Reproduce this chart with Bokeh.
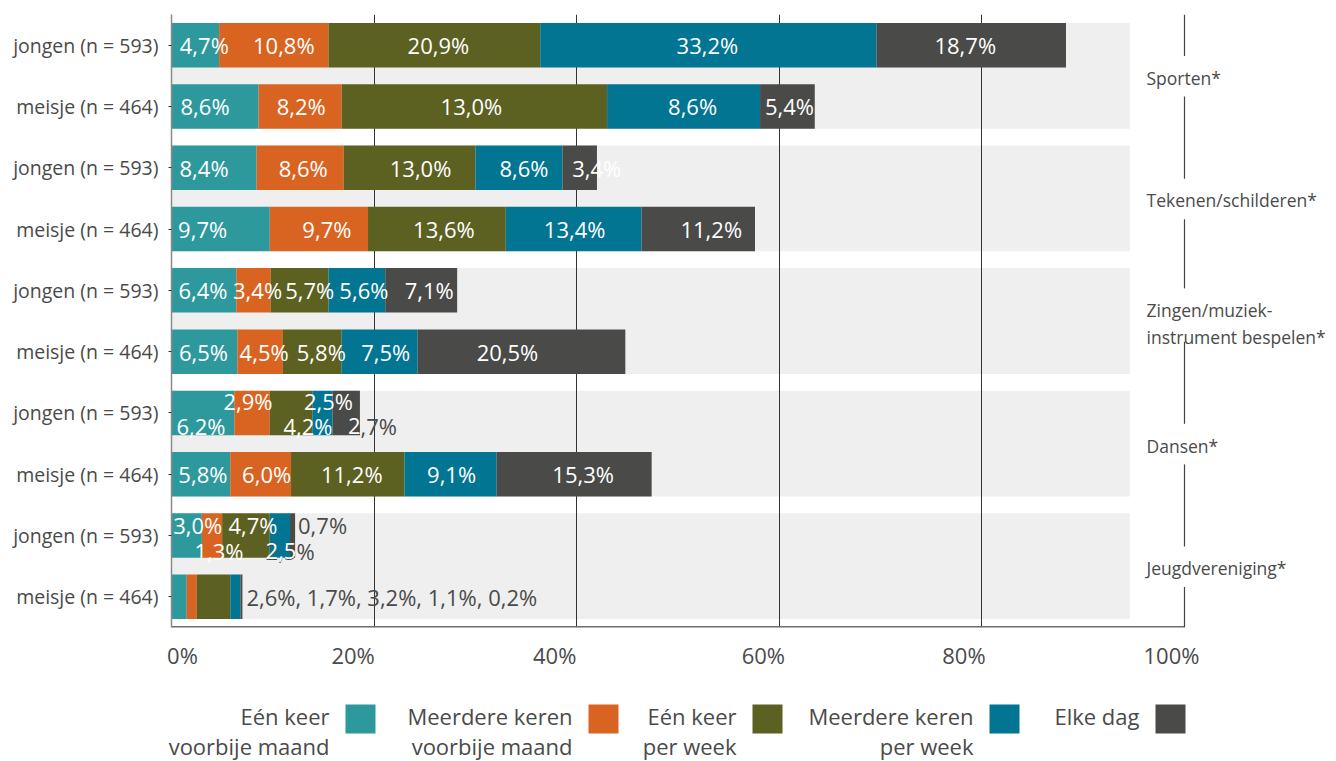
from bokeh.plotting import figure
from bokeh.models import ColumnDataSource, Range1d, FixedTicker, CustomJSTickFormatter, Label
from bokeh.layouts import column
from bokeh.embed import file_html
from bokeh.resources import INLINE
from bokeh.core.properties import value

# ---------------- data ----------------
rows = ["jongen (n = 593)", "meisje (n = 464)"] * 5
groups = [["Sporten*"], ["Tekenen/schilderen*"], ["Zingen/muziek-", "instrument bespelen*"],
          ["Dansen*"], ["Jeugdvereniging*"]]
series = [["Eén keer", "voorbije maand"], ["Meerdere keren", "voorbije maand"],
          ["Eén keer", "per week"], ["Meerdere keren", "per week"], ["Elke dag"]]
tick_values = [0, 20, 40, 60, 80, 100]
tick_labels = ["0%", "20%", "40%", "60%", "80%", "100%"]

# bar lengths (%) as drawn, one value per row
een_keer_maand = [4.7, 8.6, 8.4, 9.7, 6.4, 6.5, 6.2, 5.8, 3.0, 1.5]
meerdere_maand = [10.8, 8.2, 8.6, 9.7, 3.4, 4.5, 3.5, 6.0, 2.0, 1.0]
een_keer_week = [20.9, 26.2, 13.0, 13.6, 5.7, 5.8, 4.2, 11.2, 4.7, 3.3]
meerdere_week = [33.2, 15.1, 8.6, 13.4, 5.6, 7.5, 2.0, 9.1, 2.0, 1.0]
elke_dag = [18.7, 5.4, 3.4, 11.2, 7.1, 20.5, 2.7, 15.3, 0.5, 0.2]

# data label texts as printed
lbl_een_keer_maand = ["4,7%", "8,6%", "8,4%", "9,7%", "6,4%", "6,5%", "6,2%", "5,8%", "3,0%", "2,6%"]
lbl_meerdere_maand = ["10,8%", "8,2%", "8,6%", "9,7%", "3,4%", "4,5%", "2,9%", "6,0%", "1,3%", "1,7%"]
lbl_een_keer_week = ["20,9%", "13,0%", "13,0%", "13,6%", "5,7%", "5,8%", "4,2%", "11,2%", "4,7%", "3,2%"]
lbl_meerdere_week = ["33,2%", "8,6%", "8,6%", "13,4%", "5,6%", "7,5%", "2,5%", "9,1%", "2,5%", "1,1%"]
lbl_elke_dag = ["18,7%", "5,4%", "3,4%", "11,2%", "7,1%", "20,5%", "2,7%", "15,3%", "0,7%", "0,2%"]

values = [een_keer_maand, meerdere_maand, een_keer_week, meerdere_week, elke_dag]
labels = [lbl_een_keer_maand, lbl_meerdere_maand, lbl_een_keer_week, lbl_meerdere_week, lbl_elke_dag]

# ---------------- styles / layout ----------------
FONT = "Open Sans"
LBL_SIZE = 22
TXT = "#4a4a4a"
COLORS = ["#2e999d", "#d96421", "#5c6121", "#017592", "#4a4a48"]
BAND = "#efefef"
W, H, LH = 1334, 672, 88
ML, MT = 171, 14
FRAME_H = 620
PX_X = 1013 / 100.0          # pixels per percent
PX_Y = FRAME_H / len(rows)   # pixels per row
X_END = 100 + (W - ML - 1013) / PX_X
BAR_H = 45 / 62
BAND_END = 94.6
# pixel nudges (dx, dy) of the data labels, per row and series
NUDGE = [
    [(9, 0), (10, 0), (4, 0), (-1, 0), (-6, 0)],
    [(-10, 0), (1, 0), (-3, 0), (9, 0), (2, 0)],
    [(-10, 0), (3, 0), (11, 0), (5, 0), (17, 0)],
    [(-18, 0), (8, 0), (7, 0), (1, 0), (13, 0)],
    [(-1, 0), (4, 0), (10, 0), (7, 0), (8, 0)],
    [(-1, 0), (4, 0), (9, 0), (6, 0), (-14, 0)],
    [(-2, 13), (-4, -12), (17, 13), (6, -12), (26, 13)],
    [(2, 0), (6, 0), (4, 0), (1, 0), (9, 0)],
    [(11, -11), (7, 15), (7, -11), (10, 15), (30, -11)],
    None,
]
DARK_LABELS = {(6, 4), (8, 4)}
# labels that cross the bar end: number of leading characters shown in white
SPLIT_LABELS = {(6, 4): 1, (8, 3): 3}
TICK_SHIFT_PX = [11, -21, -22, -16, -18, -13]
CHAR_EM = {",": 0.245, "%": 0.824}


def text_width(s):
    return sum(CHAR_EM.get(ch, 0.572) for ch in s) * LBL_SIZE


p = figure(width=W, height=H, x_range=Range1d(0, X_END), y_range=Range1d(len(rows), 0),
           output_backend="svg", toolbar_location=None,
           min_border_left=ML, min_border_right=0, min_border_top=MT,
           min_border_bottom=H - MT - FRAME_H)
p.outline_line_color = None
p.background_fill_color = "white"
p.border_fill_color = "white"
if "frame_align" in p.properties():
    p.frame_align = False

yc = [i + 0.5 for i in range(len(rows))]

# grey bands behind each pair of rows
n_groups = len(groups)
band_src = ColumnDataSource(dict(y=[2 * g + 1 for g in range(n_groups)]))
bands = p.hbar(y="y", left=0, right=BAND_END, height=1 + BAR_H, source=band_src,
               fill_color=BAND, line_color=None)
bands.level = "image"

# stacked bars
lefts = [0.0] * len(rows)
lx, ly, lt, lc, ldx, ldy = [], [], [], [], [], []
sx, sy, st, sc, sdx, sdy = [], [], [], [], [], []
for s, vals in enumerate(values):
    rights = [l + v for l, v in zip(lefts, vals)]
    src = ColumnDataSource(dict(y=yc, left=lefts, right=rights))
    p.hbar(y="y", left="left", right="right", height=BAR_H, source=src,
           fill_color=COLORS[s], line_color=None)
    for r in range(len(rows)):
        if NUDGE[r] is None:
            continue
        cx = (lefts[r] + rights[r]) / 2
        dx, dy = NUDGE[r][s]
        txt = labels[s][r]
        if (r, s) in SPLIT_LABELS:
            left_off = dx - text_width(txt) / 2
            k = SPLIT_LABELS[(r, s)]
            for part, col in ((txt, TXT), (txt[:k], "white")):
                sx.append(cx); sy.append(yc[r]); st.append(part); sc.append(col)
                sdx.append(left_off); sdy.append(dy)
            continue
        lx.append(cx)
        ly.append(yc[r])
        lt.append(txt)
        lc.append(TXT if (r, s) in DARK_LABELS else "white")
        ldx.append(dx)
        ldy.append(dy)
    lefts = rights

lab_src = ColumnDataSource(dict(x=lx, y=ly, text=lt, color=lc, dx=ldx, dy=ldy))
p.text(x="x", y="y", text="text", source=lab_src, text_color="color",
       x_offset="dx", y_offset="dy", text_align="center", text_baseline="middle",
       text_font=value(FONT), text_font_size=value(f"{LBL_SIZE}px"))
split_src = ColumnDataSource(dict(x=sx, y=sy, text=st, color=sc, dx=sdx, dy=sdy))
p.text(x="x", y="y", text="text", source=split_src, text_color="color",
       x_offset="dx", y_offset="dy", text_align="left", text_baseline="middle",
       text_font=value(FONT), text_font_size=value(f"{LBL_SIZE}px"))

# rows with combined label at the bar end
for r in range(len(rows)):
    if NUDGE[r] is None:
        txt = ", ".join(labels[s][r] for s in range(len(values)))
        p.text(x=[lefts[r]], y=[yc[r]], text=[txt], x_offset=4, text_align="left",
               text_baseline="middle", text_color=TXT,
               text_font=value(FONT), text_font_size=value(f"{LBL_SIZE}px"))

# grid
p.ygrid.visible = False
p.xgrid.ticker = FixedTicker(ticks=[20, 40, 60, 80])
p.xgrid.grid_line_color = "#333333"
p.xgrid.grid_line_width = 1

# x axis (line drawn only up to 100 %)
shifted = [v + d / PX_X for v, d in zip(tick_values, TICK_SHIFT_PX)]
p.xaxis.ticker = FixedTicker(ticks=shifted)
p.xaxis.formatter = CustomJSTickFormatter(args=dict(labels=tick_labels), code="return labels[index];")
p.xaxis.major_tick_out = 0
p.xaxis.major_tick_in = 0
p.xaxis.minor_tick_out = 0
p.xaxis.minor_tick_in = 0
p.xaxis.axis_line_color = None
p.xaxis.major_label_standoff = 12
p.xaxis.major_label_text_font = FONT
p.xaxis.major_label_text_font_size = "22px"
p.xaxis.major_label_text_color = TXT
p.segment(x0=0, x1=100, y0=len(rows), y1=len(rows), line_color="#6e6e6e", line_width=3)

# y axis
p.yaxis.ticker = FixedTicker(ticks=yc)
p.yaxis.formatter = CustomJSTickFormatter(args=dict(labels=rows), code="return labels[index];")
p.yaxis.major_tick_out = 3
p.yaxis.major_tick_in = 0
p.yaxis.minor_tick_out = 0
p.yaxis.minor_tick_in = 0
p.yaxis.major_tick_line_color = "#333333"
p.yaxis.axis_line_color = "#8a8a8a"
p.yaxis.axis_line_width = 1.5
p.yaxis.major_label_standoff = 10
p.yaxis.major_label_text_font = FONT
p.yaxis.major_label_text_font_size = "19.5px"
p.yaxis.major_label_text_color = TXT

# right-hand group labels and the interrupted vertical line at 100 %
seg_y0, seg_y1 = [0.0], []
for g, lines in enumerate(groups):
    c = 2 * g + 1
    offs = [2] if len(lines) == 1 else [-11, 16]
    for txt, off in zip(lines, offs):
        p.add_layout(Label(x=100, y=c + off / PX_Y, x_offset=-38, text=txt,
                           text_align="left", text_baseline="middle",
                           text_font=FONT, text_font_size="17.5px", text_color=TXT))
    top = c + (offs[0] - 22) / PX_Y
    bot = c + (offs[-1] + (19 if len(lines) == 1 else 5)) / PX_Y
    seg_y1.append(top)
    seg_y0.append(bot)
seg_y1.append(float(len(rows)))
p.segment(x0=100, x1=100, y0=seg_y0, y1=seg_y1, line_color="#444444", line_width=1.2)

# ---------------- legend ----------------
lg = figure(width=W, height=LH, x_range=Range1d(0, W), y_range=Range1d(LH, 0),
            output_backend="svg", toolbar_location=None, x_axis_type=None, y_axis_type=None,
            min_border=0)
lg.outline_line_color = None
lg.grid.visible = False
if "frame_align" in lg.properties():
    lg.frame_align = False
SW_LEFT = [345, 588, 752, 989, 1155]
SW, SH, SW_Y = 30, 29, 46.5
LINE_Y = [43, 73]
lg.rect(x=[x + SW / 2 for x in SW_LEFT], y=[SW_Y] * len(SW_LEFT), width=SW, height=SH,
        fill_color=COLORS, line_color=None)
tx, ty, tt = [], [], []
for x, lines in zip(SW_LEFT, series):
    for i, ln in enumerate(lines):
        tx.append(x - 16)
        ty.append(LINE_Y[i])
        tt.append(ln)
lg.text(x=tx, y=ty, text=tt, text_align="right", text_baseline="middle", text_color=TXT,
        text_font=value(FONT), text_font_size=value("22px"))

layout = column(p, lg)
open("out.html", "w").write(file_html(layout, INLINE))
